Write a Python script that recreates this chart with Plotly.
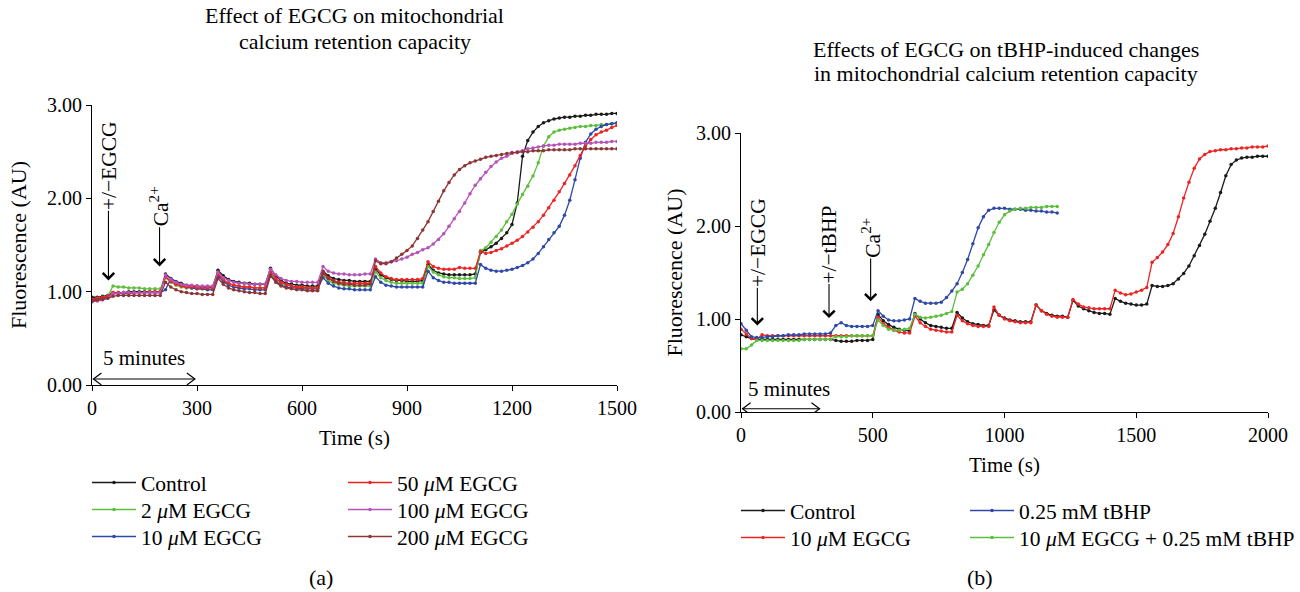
import plotly.graph_objects as go

# ---------------- Panel (a) data: time (s) and fluorescence (AU) ----------------
time_a = [0, 15, 30, 45, 60, 75, 90, 105, 120, 135, 150, 165, 180, 195,
          210, 225, 240, 255, 270, 285, 300, 315, 330, 345,
          360, 375, 390, 405, 420, 435, 450, 465, 480, 495,
          510, 525, 540, 555, 570, 585, 600, 615, 630, 645,
          660, 675, 690, 705, 720, 735, 750, 765, 780, 795,
          810, 825, 840, 855, 870, 885, 900, 915, 930, 945,
          960, 975, 990, 1005, 1020, 1035, 1050, 1065, 1080, 1095,
          1110, 1125, 1140, 1155, 1170, 1185, 1200, 1215, 1230, 1245, 1260, 1275, 1290, 1305,
          1320, 1335, 1350, 1365, 1380, 1395, 1410, 1425, 1440, 1455, 1470, 1485, 1500]

control_a = [0.94, 0.94, 0.95, 0.96,
             0.99, 0.99, 0.99, 1.00, 1.00, 1.00, 1.00, 1.00, 1.00, 1.00,
             1.19, 1.14, 1.11, 1.09, 1.07, 1.06, 1.06, 1.05, 1.05, 1.05,
             1.23, 1.17, 1.13, 1.11, 1.10, 1.09, 1.09, 1.08, 1.08, 1.08,
             1.25, 1.17, 1.12, 1.09, 1.08, 1.07, 1.07, 1.06, 1.06, 1.06,
             1.22, 1.17, 1.14, 1.13, 1.12, 1.12, 1.11, 1.11, 1.11, 1.11,
             1.24, 1.18, 1.15, 1.13, 1.12, 1.12, 1.11, 1.11, 1.11, 1.12,
             1.29, 1.23, 1.20, 1.19, 1.18, 1.18, 1.18, 1.18, 1.18, 1.19,
             1.42, 1.45, 1.48, 1.52, 1.57, 1.63, 1.72, 1.95, 2.45, 2.62, 2.71, 2.77, 2.81, 2.83,
             2.85, 2.86, 2.87, 2.87, 2.88, 2.88, 2.89, 2.89, 2.90, 2.90, 2.90, 2.91, 2.91]

egcg2_a = [0.92, 0.93, 0.94, 0.95,
           1.06, 1.05, 1.05, 1.04, 1.04, 1.04, 1.03, 1.03, 1.03, 1.03,
           1.15, 1.10, 1.07, 1.05, 1.04, 1.04, 1.03, 1.03, 1.03, 1.03,
           1.18, 1.12, 1.09, 1.07, 1.06, 1.05, 1.05, 1.04, 1.04, 1.04,
           1.20, 1.13, 1.09, 1.07, 1.06, 1.05, 1.05, 1.04, 1.04, 1.04,
           1.18, 1.12, 1.09, 1.08, 1.07, 1.06, 1.06, 1.06, 1.06, 1.06,
           1.21, 1.15, 1.12, 1.10, 1.09, 1.09, 1.09, 1.09, 1.09, 1.09,
           1.27, 1.21, 1.18, 1.16, 1.15, 1.15, 1.14, 1.14, 1.14, 1.15,
           1.44, 1.47, 1.53, 1.59, 1.66, 1.75, 1.83, 1.94, 2.04, 2.13, 2.24, 2.38, 2.56, 2.66,
           2.71, 2.73, 2.74, 2.75, 2.76, 2.77, 2.77, 2.78, 2.78, 2.79, 2.79, 2.80, 2.80]

egcg10_a = [0.91, 0.92, 0.93, 0.95,
            0.98, 0.98, 0.98, 0.98, 0.99, 0.99, 0.99, 0.99, 0.99, 0.99,
            1.02, 1.14, 1.10, 1.07, 1.05, 1.04, 1.03, 1.03, 1.02, 1.02,
            1.17, 1.11, 1.07, 1.05, 1.04, 1.03, 1.03, 1.02, 1.02, 1.02,
            1.18, 1.11, 1.07, 1.05, 1.04, 1.04, 1.03, 1.03, 1.03, 1.03,
            1.15, 1.09, 1.06, 1.04, 1.03, 1.03, 1.02, 1.02, 1.02, 1.02,
            1.16, 1.10, 1.07, 1.06, 1.05, 1.05, 1.05, 1.05, 1.05, 1.05,
            1.22, 1.15, 1.12, 1.10, 1.10, 1.09, 1.09, 1.09, 1.09, 1.09,
            1.29, 1.25, 1.23, 1.22, 1.22, 1.23, 1.24, 1.26, 1.28, 1.31, 1.35, 1.41, 1.48, 1.56,
            1.63, 1.70, 1.82, 1.98, 2.20, 2.43, 2.60, 2.69, 2.74, 2.77, 2.79, 2.80, 2.81]

egcg50_a = [0.92, 0.93, 0.94, 0.95,
            0.99, 0.99, 0.99, 0.99, 0.99, 0.99, 0.99, 1.00, 1.00, 1.00,
            1.16, 1.11, 1.08, 1.06, 1.05, 1.05, 1.04, 1.04, 1.04, 1.04,
            1.19, 1.13, 1.09, 1.07, 1.06, 1.05, 1.05, 1.04, 1.04, 1.04,
            1.22, 1.14, 1.10, 1.08, 1.06, 1.05, 1.05, 1.04, 1.04, 1.04,
            1.21, 1.15, 1.12, 1.10, 1.10, 1.09, 1.09, 1.09, 1.09, 1.09,
            1.27, 1.20, 1.16, 1.14, 1.13, 1.13, 1.13, 1.13, 1.13, 1.14,
            1.32, 1.27, 1.25, 1.24, 1.24, 1.24, 1.26, 1.25, 1.25, 1.25,
            1.43, 1.41, 1.42, 1.44, 1.46, 1.49, 1.52, 1.55, 1.59, 1.64, 1.69, 1.75, 1.82, 1.90,
            1.98, 2.07, 2.16, 2.25, 2.35, 2.46, 2.56, 2.63, 2.68, 2.71, 2.73, 2.76, 2.78]

egcg100_a = [0.89, 0.90, 0.91, 0.93,
             0.98, 0.98, 0.99, 0.99, 0.99, 0.99, 0.99, 0.99, 0.99, 0.99,
             1.18, 1.13, 1.10, 1.08, 1.07, 1.07, 1.06, 1.06, 1.06, 1.06,
             1.21, 1.15, 1.12, 1.10, 1.09, 1.09, 1.08, 1.08, 1.08, 1.08,
             1.24, 1.18, 1.14, 1.12, 1.11, 1.11, 1.10, 1.10, 1.10, 1.10,
             1.27, 1.22, 1.20, 1.19, 1.19, 1.18, 1.18, 1.18, 1.19, 1.19,
             1.35, 1.31, 1.31, 1.32, 1.33, 1.35, 1.37, 1.40, 1.42, 1.45,
             1.47, 1.51, 1.56, 1.62, 1.70, 1.78, 1.86, 1.95, 2.05, 2.14,
             2.21, 2.28, 2.34, 2.39, 2.43, 2.45, 2.48, 2.50, 2.51, 2.53, 2.54, 2.55, 2.56, 2.57,
             2.57, 2.58, 2.58, 2.58, 2.58, 2.59, 2.59, 2.59, 2.60, 2.60, 2.60, 2.61, 2.61]

egcg200_a = [0.90, 0.91, 0.92, 0.93,
             0.95, 0.96, 0.96, 0.96, 0.96, 0.96, 0.96, 0.96, 0.96, 0.96,
             1.10, 1.05, 1.02, 1.00, 0.99, 0.98, 0.98, 0.97, 0.97, 0.97,
             1.14, 1.08, 1.04, 1.02, 1.01, 1.00, 0.99, 0.99, 0.98, 0.98,
             1.17, 1.10, 1.06, 1.04, 1.03, 1.02, 1.02, 1.01, 1.01, 1.01,
             1.20, 1.14, 1.11, 1.09, 1.08, 1.08, 1.07, 1.07, 1.07, 1.08,
             1.33, 1.30, 1.30, 1.32, 1.36, 1.40, 1.44, 1.49, 1.57, 1.66,
             1.75, 1.86, 1.97, 2.08, 2.17, 2.25, 2.31, 2.35, 2.38, 2.40,
             2.42, 2.44, 2.45, 2.46, 2.47, 2.48, 2.49, 2.49, 2.50, 2.50, 2.51, 2.51, 2.51, 2.52,
             2.52, 2.52, 2.52, 2.52, 2.53, 2.53, 2.53, 2.53, 2.53, 2.53, 2.53, 2.53, 2.53]

names_a = ["Control", "2 <i>μ</i>M EGCG", "10 <i>μ</i>M EGCG",
           "50 <i>μ</i>M EGCG", "100 <i>μ</i>M EGCG", "200 <i>μ</i>M EGCG"]
colors_a = ["#1a1a1a", "#5cbf3c", "#2e49a6", "#ee2424", "#b653b8", "#8c3535"]

# ---------------- Panel (b) data ----------------
time_b = [0, 20, 40, 60, 80, 100, 120, 140, 160, 180, 200, 220, 240, 260, 280, 300, 320, 340,
          360, 380, 400, 420, 440, 460, 480, 500,
          520, 540, 560, 580, 600, 620, 640,
          660, 680, 700, 720, 740, 760, 780, 800,
          820, 840, 860, 880, 900, 920, 940,
          960, 980, 1000, 1020, 1040, 1060, 1080, 1100,
          1120, 1140, 1160, 1180, 1200, 1220, 1240,
          1260, 1280, 1300, 1320, 1340, 1360, 1380, 1400,
          1420, 1440, 1460, 1480, 1500, 1520, 1540,
          1560, 1580, 1600, 1620, 1640, 1660, 1680, 1700, 1720, 1740, 1760, 1780,
          1800, 1820, 1840, 1860, 1880, 1900, 1920, 1940, 1960, 1980, 2000]

control_b = [0.83, 0.81, 0.79, 0.78, 0.78, 0.78,
             0.78, 0.78, 0.78, 0.78, 0.78, 0.78, 0.78, 0.78, 0.78, 0.78, 0.78, 0.78,
             0.77, 0.76, 0.76, 0.76, 0.77, 0.77, 0.77, 0.78,
             1.05, 0.98, 0.94, 0.91, 0.89, 0.88, 0.87,
             1.06, 1.00, 0.96, 0.93, 0.92, 0.91, 0.90, 0.90,
             1.07, 1.01, 0.97, 0.95, 0.94, 0.93, 0.93,
             1.10, 1.04, 1.01, 0.99, 0.98, 0.97, 0.97, 0.97,
             1.15, 1.09, 1.06, 1.04, 1.03, 1.03, 1.02,
             1.20, 1.14, 1.11, 1.09, 1.07, 1.06, 1.06, 1.05,
             1.22, 1.19, 1.17, 1.16, 1.15, 1.15, 1.16,
             1.36, 1.35, 1.35, 1.36, 1.38, 1.43, 1.49, 1.57, 1.68, 1.79, 1.91, 2.05,
             2.19, 2.36, 2.54, 2.66, 2.71, 2.73, 2.74, 2.74, 2.75, 2.75, 2.75]

egcg10_b = [0.89, 0.84, 0.79, 0.78, 0.83, 0.82,
            0.82, 0.82, 0.82, 0.82, 0.82, 0.82, 0.82, 0.82, 0.82, 0.82, 0.82, 0.82,
            0.82, 0.82, 0.82, 0.82, 0.82, 0.82, 0.82, 0.82,
            1.02, 0.95, 0.91, 0.88, 0.86, 0.85, 0.85,
            1.03, 0.96, 0.92, 0.89, 0.88, 0.87, 0.86, 0.86,
            1.04, 0.98, 0.95, 0.93, 0.92, 0.92, 0.92,
            1.13, 1.04, 1.00, 0.98, 0.97, 0.96, 0.96, 0.96,
            1.15, 1.09, 1.05, 1.03, 1.02, 1.02, 1.02,
            1.21, 1.16, 1.13, 1.12, 1.11, 1.11, 1.11, 1.11,
            1.31, 1.28, 1.26, 1.27, 1.29, 1.31, 1.34,
            1.61, 1.66, 1.72, 1.80, 1.92, 2.10, 2.30, 2.47, 2.62, 2.72, 2.77, 2.80,
            2.81, 2.82, 2.82, 2.83, 2.83, 2.84, 2.84, 2.85, 2.85, 2.85, 2.86]

tbhp_b = [0.95, 0.88, 0.81, 0.80, 0.80, 0.81,
          0.81, 0.82, 0.82, 0.83, 0.83, 0.83, 0.84, 0.84, 0.84, 0.84, 0.84, 0.85,
          0.93, 0.96, 0.93, 0.92, 0.92, 0.92, 0.92, 0.93,
          1.09, 1.03, 0.99, 0.98, 0.98, 0.99, 1.00,
          1.22, 1.19, 1.17, 1.17, 1.17, 1.18, 1.23, 1.30,
          1.38, 1.50, 1.64, 1.81, 1.98, 2.10, 2.17,
          2.19, 2.19, 2.19, 2.18, 2.18, 2.18, 2.17, 2.17,
          2.16, 2.16, 2.15, 2.15, 2.14]

egcg_tbhp_b = [0.68, 0.68, 0.72, 0.77, 0.77, 0.77,
               0.77, 0.77, 0.77, 0.77, 0.77, 0.77, 0.78, 0.78, 0.78, 0.78, 0.78, 0.78,
               0.81, 0.81, 0.81, 0.82, 0.82, 0.82, 0.82, 0.82,
               0.99, 0.93, 0.89, 0.88, 0.88, 0.89, 0.90,
               1.05, 1.02, 1.01, 1.02, 1.03, 1.04, 1.06, 1.08,
               1.29, 1.32, 1.38, 1.47, 1.57, 1.69, 1.80,
               1.93, 2.04, 2.12, 2.16, 2.18, 2.19, 2.19, 2.20,
               2.20, 2.20, 2.21, 2.21, 2.21]

names_b = ["Control", "10 <i>μ</i>M EGCG", "0.25 mM tBHP", "10 <i>μ</i>M EGCG + 0.25 mM tBHP"]
colors_b = ["#1a1a1a", "#ee2424", "#2e49a6", "#5cbf3c"]

# ---------------- Figure ----------------
W, H = 1300, 592
FONT = "Liberation Serif"


def px(x):
    return x / W


def py(y):
    return 1 - y / H


fig = go.Figure()

# legend slot (left px of legend box, top px of legend box) for every entry
slots_a = [(87, 462), (87, 489), (87, 516), (343, 462), (343, 489), (343, 516)]
slots_b = [(736, 490), (736, 517), (965, 490), (965, 517)]
legend_ids = ["legend"] + ["legend%d" % i for i in range(2, 11)]

series_a = [control_a, egcg2_a, egcg10_a, egcg50_a, egcg100_a, egcg200_a]
k = 0
for vals, name, col in zip(series_a, names_a, colors_a):
    fig.add_trace(go.Scatter(x=time_a, y=vals, name=name, mode="lines+markers",
                             line=dict(color=col, width=1.3),
                             marker=dict(color=col, size=3.5),
                             xaxis="x", yaxis="y", legend=legend_ids[k], showlegend=True))
    k += 1

series_b = [control_b, egcg10_b, tbhp_b, egcg_tbhp_b]
times_b = [time_b, time_b, time_b[:len(tbhp_b)], time_b[:len(egcg_tbhp_b)]]
for tt, vals, name, col in zip(times_b, series_b, names_b, colors_b):
    fig.add_trace(go.Scatter(x=tt, y=vals, name=name, mode="lines+markers",
                             line=dict(color=col, width=1.3),
                             marker=dict(color=col, size=3.5),
                             xaxis="x2", yaxis="y2", legend=legend_ids[k], showlegend=True))
    k += 1

axis_common = dict(showline=True, linecolor="black", linewidth=1, ticks="outside",
                   ticklen=5, tickcolor="black", tickwidth=1, showgrid=False,
                   zeroline=False, automargin=False,
                   tickfont=dict(family=FONT, size=20, color="black"))

fig.update_layout(
    template="none",
    width=W, height=H,
    showlegend=True,
    margin=dict(l=0, r=0, t=0, b=0, autoexpand=False),
    paper_bgcolor="white", plot_bgcolor="white",
    font=dict(family=FONT, size=20, color="black"),
    xaxis=dict(domain=[px(92), px(617)], range=[0, 1500], anchor="y",
               tickvals=[0, 300, 600, 900, 1200, 1500],
               title=dict(text="Time (s)", standoff=12, font=dict(size=21)), **axis_common),
    yaxis=dict(domain=[py(385), py(105)], range=[0, 3], anchor="x",
               tickvals=[0, 1, 2, 3], tickformat=".2f",
               title=dict(text="Fluorescence (AU)", standoff=14, font=dict(size=22)), **axis_common),
    xaxis2=dict(domain=[px(741), px(1268)], range=[0, 2000], anchor="y2",
                tickvals=[0, 500, 1000, 1500, 2000],
                title=dict(text="Time (s)", standoff=12, font=dict(size=21)), **axis_common),
    yaxis2=dict(domain=[py(412), py(133)], range=[0, 3], anchor="x2",
                tickvals=[0, 1, 2, 3], tickformat=".2f",
                title=dict(text="Fluorescence (AU)", standoff=7, font=dict(size=22)), **axis_common),
)

legends = {}
for lid, (lx, ly) in zip(legend_ids, slots_a + slots_b):
    legends[lid] = dict(x=px(lx), y=py(ly), xanchor="left", yanchor="top",
                        bgcolor="rgba(0,0,0,0)", orientation="v", itemwidth=44,
                        font=dict(family=FONT, size=21.5, color="black"))
fig.update_layout(**legends)

anns = []


def text_ann(xref, yref, x, y, text, size=22, angle=0, xanchor="center"):
    anns.append(dict(xref=xref, yref=yref, x=x, y=y, text=text, showarrow=False,
                     textangle=angle, xanchor=xanchor, yanchor="middle",
                     font=dict(family=FONT, size=size, color="black")))


def label_arrow(xref, yref, head_x, head_y, text_x, text_y, text, size=21.5, angle=0):
    # text sits at the tail; the arrow runs from the text box to the head point
    anns.append(dict(xref=xref, yref=yref, axref=xref, ayref=yref,
                     x=head_x, y=head_y, ax=text_x, ay=text_y, text=text,
                     textangle=angle, showarrow=True, arrowhead=4, arrowsize=2.0,
                     arrowwidth=1.1, arrowcolor="black", borderpad=0,
                     font=dict(family=FONT, size=size, color="black")))


# Titles and panel labels
text_ann("paper", "paper", px(355), py(16), "Effect of EGCG on mitochondrial")
text_ann("paper", "paper", px(355), py(41), "calcium retention capacity")
text_ann("paper", "paper", px(1006), py(50), "Effects of EGCG on tBHP-induced changes")
text_ann("paper", "paper", px(1006), py(73), "in mitochondrial calcium retention capacity")
text_ann("paper", "paper", px(321), py(577), "(a)")
text_ann("paper", "paper", px(980), py(577), "(b)")

# Panel (a) annotations
label_arrow("x", "y", 0, 3.04, 0, 3.40, "SUC + Mito", size=21)
label_arrow("x", "y", 47, 1.12, 47, 2.35, "+/−EGCG", angle=-90)
label_arrow("x", "y", 193, 1.27, 193, 1.91, "Ca<sup>2+</sup>", angle=-90)
text_ann("x", "y", 26, 0.29, "5 minutes", size=21, xanchor="left")

# Panel (b) annotations
label_arrow("x2", "y2", 0, 3.05, 0, 3.38, "SUC + mit", size=21)
label_arrow("x2", "y2", 62, 0.93, 62, 1.82, "+/−EGCG", angle=-90)
label_arrow("x2", "y2", 334, 1.01, 334, 1.80, "+/−tBHP", angle=-90)
label_arrow("x2", "y2", 492, 1.19, 492, 1.87, "Ca<sup>2+</sup>", angle=-90)
text_ann("x2", "y2", 19, 0.25, "5 minutes", size=21, xanchor="left")

fig.update_layout(annotations=anns)

# "5 minutes" double-headed scale arrows: a line plus open chevron heads
shapes = []
for xr, yr, x0, x1, yv in [("x", "y", 4, 294, 0.065), ("x2", "y2", 6, 298, 0.035)]:
    shapes.append(dict(type="line", xref=xr, yref=yr, x0=x0, x1=x1, y0=yv, y1=yv,
                       line=dict(color="black", width=1.1)))
    shapes.append(dict(type="path", xref=xr, yref=yr, xsizemode="pixel", ysizemode="pixel",
                       xanchor=x0, yanchor=yv, path="M 8 -6 L 0 0 L 8 6",
                       line=dict(color="black", width=1.2)))
    shapes.append(dict(type="path", xref=xr, yref=yr, xsizemode="pixel", ysizemode="pixel",
                       xanchor=x1, yanchor=yv, path="M -8 -6 L 0 0 L -8 6",
                       line=dict(color="black", width=1.2)))
fig.update_layout(shapes=shapes)

fig.write_html("out.html",
               config={"displayModeBar": False},
               post_script="document.body.style.margin='0';document.body.style.padding='0';"
                           "document.body.style.overflow='hidden';")
